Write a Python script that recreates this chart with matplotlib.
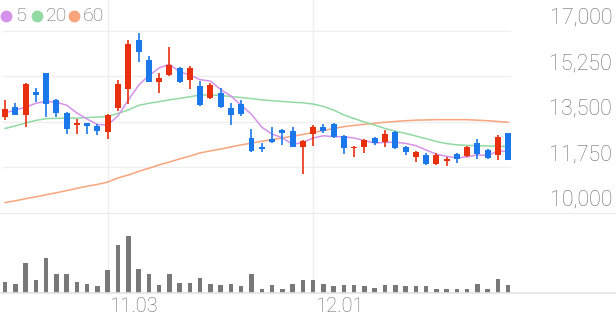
import numpy as np
import matplotlib.pyplot as plt
from matplotlib import transforms
from matplotlib.lines import Line2D

plt.rcParams['font.family'] = ['Roboto', 'DejaVu Sans']

# daily candles (50 sessions), prices in won
opens = [13680, 14070, 13770, 14670, 15370, 14350, 13860, 13370, 13450, 13350,
         13120, 14030, 14770, 16650, 15880, 15050, 15300, 15590, 15120, 14870,
         14410, 14600, 14030, 14190, 12870, 12530, 12850, 13190, 13170, 12550,
         13040, 13320, 13440, 12960, 12490, 12530, 12870, 12740, 13130, 12550,
         12170, 12230, 11880, 12010, 12270, 12190, 12700, 12420, 12230, 13070]
highs = [14350, 14220, 15010, 14820, 15400, 14370, 13900, 13600, 13460, 13410,
         13810, 15120, 16670, 16940, 16050, 15370, 16370, 15630, 15670, 15080,
         14990, 14800, 14220, 14350, 13220, 12700, 13300, 13220, 13320, 12790,
         13380, 13420, 13450, 13000, 12560, 12830, 12910, 13190, 13170, 12580,
         12370, 12300, 12320, 12170, 12300, 12580, 12830, 12450, 13000, 13090]
lows = [13580, 13750, 13320, 14280, 13680, 13680, 13040, 13040, 13040, 13000,
        12850, 13920, 14190, 15820, 15030, 14600, 15280, 14990, 14770, 14130,
        14370, 14050, 13380, 13730, 12360, 12360, 12680, 12600, 12520, 11500,
        12580, 13070, 12900, 12270, 12170, 12320, 12620, 12550, 12480, 12230,
        11970, 11850, 11850, 11810, 11930, 12170, 12070, 12070, 12040, 12040]
closes = [14010, 13770, 14960, 14540, 14190, 13830, 13220, 13450, 13350, 13170,
          13750, 14950, 16490, 16190, 15050, 15200, 15680, 15030, 15580, 14150,
          14920, 14070, 13770, 13810, 12400, 12450, 12740, 13070, 12530, 12780,
          13300, 13170, 12910, 12490, 12550, 12810, 12700, 13040, 12490, 12360,
          12360, 11870, 12230, 12070, 12070, 12550, 12270, 12100, 12910, 12040]
volumes = [33, 28, 90, 40, 105, 56, 56, 33, 26, 20, 70, 143, 172, 71, 56, 25, 58, 30, 30, 46,
           26, 23, 26, 20, 56, 11, 25, 13, 28, 40, 38, 28, 20, 25, 23, 20, 15, 25, 25, 20,
           22, 22, 11, 11, 11, 13, 28, 11, 43, 25]
volumes = [v * 1000 for v in volumes]

# moving averages as shown on the chart
ma5 = [13850, 13960, 14070, 14220, 14294, 14258, 14148, 13846, 13608, 13404,
       13388, 13734, 14342, 14910, 15286, 15576, 15722, 15430, 15308, 15128,
       15072, 14750, 14498, 14144, 13794, 13300, 13034, 12894, 12638, 12714,
       12884, 12970, 12938, 12930, 12884, 12786, 12692, 12718, 12718, 12680,
       12590, 12424, 12262, 12178, 12120, 12158, 12238, 12212, 12380, 12374]
ma20 = [13250, 13350, 13460, 13560, 13630, 13640, 13650, 13650, 13670, 13690,
        13710, 13830, 13960, 14140, 14220, 14280, 14350, 14410, 14470, 14540,
        14540, 14520, 14480, 14440, 14400, 14350, 14320, 14290, 14260, 14240,
        14190, 14100, 13960, 13770, 13630, 13500, 13380, 13250, 13150, 13060,
        12960, 12860, 12750, 12670, 12620, 12600, 12590, 12580, 12570, 12560]
ma60 = [10400, 10470, 10550, 10620, 10700, 10780, 10860, 10950, 11030, 11100,
        11190, 11350, 11460, 11600, 11720, 11850, 11960, 12080, 12190, 12310,
        12390, 12460, 12540, 12620, 12690, 12760, 12820, 12890, 12950, 13020,
        13100, 13170, 13250, 13320, 13370, 13410, 13450, 13490, 13520, 13550,
        13570, 13580, 13590, 13590, 13590, 13590, 13570, 13550, 13520, 13490]

price_ticks = [10000, 11750, 13500, 15250, 17000]
date_ticks = {10: '11.03', 30: '12.01'}

RED = '#e8300f'
BLUE = '#1a78ea'
C5, C20, C60 = '#d592ea', '#92d9a3', '#f8a47d'
GRID = '#efefef'
TXT = '#6c6c6c'

W, H = 616, 321
fig = plt.figure(figsize=(W / 100, H / 100), dpi=100)

x = np.arange(len(closes))
xlim = (-0.49, 49.27)

# price panel
ax = fig.add_axes([0, (H - 213) / H, 511 / W, 213 / H])
ax.set_xlim(*xlim)
ax.set_ylim(10000, 17000 + 31 * 38.46)
ax.axis('off')

for p in price_ticks[1:]:
    ax.axhline(p, xmin=3 / 511, xmax=1, color=GRID, lw=1, zorder=0)

ax.plot(x, ma60, color=C60, lw=1.1, zorder=2)
ax.plot(x, ma20, color=C20, lw=1.1, zorder=2)
ax.plot(x, ma5, color=C5, lw=1.1, zorder=2)

o = np.array(opens)
c = np.array(closes)
cols = [RED if cc >= oo else BLUE for oo, cc in zip(o, c)]
ax.vlines(x, lows, highs, colors=cols, lw=1.2, zorder=3)
bottoms = np.minimum(o, c)
heights = np.maximum(np.abs(c - o), 50)
ax.bar(x, heights, bottom=bottoms, width=0.58, color=cols, zorder=4)

# price labels on the right
tr = transforms.blended_transform_factory(fig.transFigure, ax.transData)
for p in price_ticks:
    ax.text(612 / W, p + 500, f'{p:,}', transform=tr, ha='right', va='center',
            fontsize=15.5, color=TXT, fontweight='light')

# volume panel
axv = fig.add_axes([0, (H - 293) / H, 511 / W, 73 / H])
axv.set_xlim(*xlim)
axv.set_ylim(0, 219000)
axv.axis('off')
axv.bar(x, volumes, width=0.44, color='#787878', zorder=3)

trx = transforms.blended_transform_factory(axv.transData, fig.transFigure)
for i, lab in date_ticks.items():
    fig.add_artist(Line2D([i, i], [(H - 293) / H, 1], transform=trx, color=GRID, lw=1, zorder=0))
    axv.text(i + 0.15, 1 - 307 / H, lab, transform=trx, ha='left', va='center',
             fontsize=14.5, color=TXT, fontweight='light')

# panel separators
fig.add_artist(Line2D([0, 1], [1 - 213 / H, 1 - 213 / H], color='#ebebeb', lw=1))
fig.add_artist(Line2D([0, 1], [1 - 293 / H, 1 - 293 / H], color='#e3e3e3', lw=1.2))

# legend
for cx, tx, col, lab in [(6, 15, C5, '5'), (37, 46, C20, '20'), (74, 83, C60, '60')]:
    fig.add_artist(Line2D([cx / W], [1 - 16 / H], marker='o', markersize=7.5,
                          color=col, transform=fig.transFigure))
    fig.text(tx / W, 1 - 16 / H, lab, ha='left', va='center', fontsize=14,
             color=TXT, fontweight='light')

fig.savefig('out.png', dpi=100)
